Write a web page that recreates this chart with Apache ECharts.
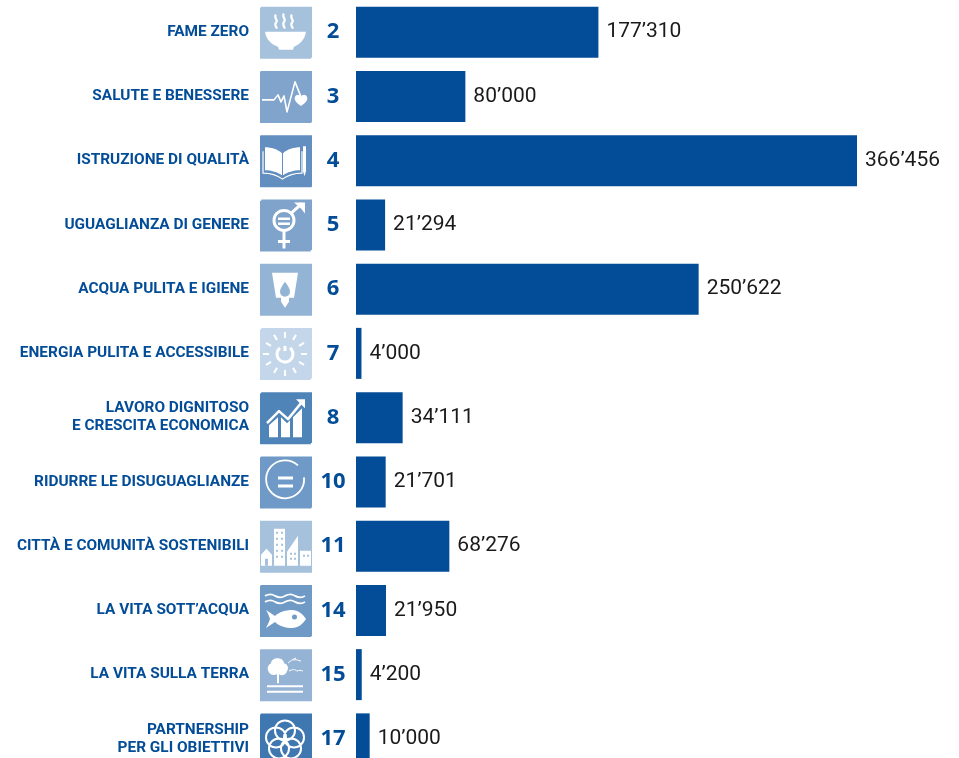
<!DOCTYPE html>
<html><head><meta charset="utf-8">
<style>html,body{margin:0;padding:0;background:#fff}#c{width:959px;height:758px}</style>
<script src="https://cdn.jsdelivr.net/npm/echarts@6/dist/echarts.min.js"></script>
</head><body><div id="c"></div>
<script>
const goalNames = ['FAME ZERO','SALUTE E BENESSERE','ISTRUZIONE DI QUALITÀ','UGUAGLIANZA DI GENERE','ACQUA PULITA E IGIENE','ENERGIA PULITA E ACCESSIBILE','LAVORO DIGNITOSO\nE CRESCITA ECONOMICA','RIDURRE LE DISUGUAGLIANZE','CITTÀ E COMUNITÀ SOSTENIBILI','LA VITA SOTT’ACQUA','LA VITA SULLA TERRA','PARTNERSHIP\nPER GLI OBIETTIVI'];
const goalNumbers = ['2','3','4','5','6','7','8','10','11','14','15','17'];
const amounts = [177310,80000,366456,21294,250622,4000,34111,21701,68276,21950,4200,10000];
const iconTints = ['#A6C1DC','#80A4CB','#628FBF','#7FA3CB','#94B4D6','#C4D6E9','#4F84B8','#6F9AC7','#A6C1DC','#6F9AC6','#94B3D5','#3F77B0'];
const BLUE = '#034C97';

// Icon glyphs in a 52x52 local box: [kind, pathData] where kind is f=white fill, s<width>=white stroke, t=tint fill
const rays = 'M25 4V10M25 42V48M3 26H9M41 26H47M14 7L17 12M33 40L36 45M6 15L11 18M39 34L44 37M6 37L11 34M39 18L44 15M36 7L33 12M17 40L14 45';
const icons = [
 [['f','M5 25H46C45 33 39 38 34 40L33 43H19L18 40C12 38 6 33 5 25Z'],['s2.200','M16 8C13 11 19 14 16 16C14 18 16 20 17 22M24 7C21 10 27 13 24 15C22 18 24 20 25 22M32 8C29 11 35 14 32 16C30 18 32 20 33 22']],
 [['s1.600','M2 29H14L18 24L21 31L24 25L27 41L35 11L41 26'],['f','M41 35C35 31 34 28 35 26C36 23 40 23 41 26C42 23 46 23 47 26C48 28 47 31 41 35Z']],
 [['f','M5 12C11 12 18 14 22 18V40C18 37 11 35 5 35ZM40 12C34 12 27 14 23 18V40C27 37 34 35 40 35Z'],['s1.200','M3 16V38C10 38 17 40 22.500 44C28 40 35 38 42 38V16'],['f','M43 11H46V36L44.500 41L43 36Z']],
 [['s3','M24 11A10 10 0 1 0 24.010 11M24 31V49M18 42H30M31 14L42 4'],['f','M34 3H45V14L41 9Z'],['f','M18 18H30V20.500H18ZM18 23H30V25.500H18Z']],
 [['f','M12 9H38L34 34H29V38L25 44L21 38V34H16Z'],['t','M25 18C28 22 30 25 30 28A5 5 0 0 1 20 28C20 25 22 22 25 18Z']],
 [['s2',rays],['s3','M20 20A8 8 0 1 0 30 20M25 18V23']],
 [['f','M9 45V33L18 25V45ZM21 45V25L27 31L30 28V45ZM33 45V25L42 16V45Z'],['s2.500','M7 31L19 19L28 27L41 11'],['f','M36 7H45V16Z']],
 [['s1.800','M38 9A19 19 0 1 0 44 21'],['f','M18 20H33V23H18ZM18 28H33V31H18Z']],
 [['f','M1 34L6.500 28L12 34V45H1ZM14 8H25V45H14ZM27 31L38 15V45H27ZM40 30H51V45H40Z'],['t','M16 11H18V13H16ZM21 11H23V13H21ZM16 17H18V19H16ZM21 17H23V19H21ZM16 23H18V25H16ZM21 23H23V25H21ZM16 29H18V31H16ZM21 29H23V31H21ZM16 35H18V37H16ZM21 35H23V37H21ZM30 32H32V34H30ZM34 32H36V34H34ZM30 37H32V39H30ZM34 37H36V39H34ZM43 34H45V36H43ZM47 34H49V36H47ZM5 38H8V45H5Z']],
 [['s1.800','M5 11C9 9 12 9 15 11C19 13 22 13 25 11C29 9 32 9 35 11C39 13 42 13 45 11M5 17C9 15 12 15 15 17C19 19 22 19 25 17C29 15 32 15 35 17C39 19 42 19 45 17'],['f','M6 25C9 27 12 29 15 31C19 27 26 25 32 25C38 25 43 29 46 34C43 39 38 43 32 43C26 43 19 41 15 37C12 39 9 41 6 43C8 39 9 37 10 34C9 31 8 28 6 25Z'],['t','M32 32A2.500 2.500 0 1 0 37 32A2.500 2.500 0 1 0 32 32Z']],
 [['f','M18 9C22 9 24 12 24 14C28 15 29 19 27 22C26 26 21 27 19 25V34H17V25C13 27 9 25 8 21C7 18 9 15 11 14C11 11 14 9 18 9Z'],['f','M7 36H43V38H7ZM7 41.500H43V43.500H7Z'],['s1','M28 14C30 12 33 10 36 9M33 11C35 10 38 11 41 12M29 22C32 20 35 20 37 22C39 21 41 21 43 22']],
 [['s2','M15 17A10 10 0 1 0 35 17A10 10 0 1 0 15 17M6 24A10 10 0 1 0 26 24A10 10 0 1 0 6 24M24 24A10 10 0 1 0 44 24A10 10 0 1 0 24 24M9 35A10 10 0 1 0 29 35A10 10 0 1 0 9 35M21 35A10 10 0 1 0 41 35A10 10 0 1 0 21 35']]
];

function iconItem(params, api) {
  const i = params.dataIndex, p = api.coord([0, i]), tint = iconTints[i];
  const children = [{type:'rect', shape:{x:0,y:0,width:52,height:52}, style:{fill:tint}}];
  icons[i].forEach(([kind, d]) => {
    const style = kind === 'f' ? {fill:'#fff'} : kind === 't' ? {fill:tint}
      : {fill:'none', stroke:'#fff', lineWidth:+kind.slice(1), lineJoin:'round'};
    children.push({type:'path', shape:{pathData:'M0 0L0.010 0L0.010 0.010ZM52 52L51.990 52L51.990 51.990Z' + d, x:0,y:0,width:52,height:52, layout:'cover'}, style});
  });
  return {type:'group', x:p[0]-96, y:p[1]-25.5, children};
}

const fmt = v => String(v).replace(/\B(?=(\d{3})+$)/g, '’');

const chart = echarts.init(document.getElementById('c'), null, {renderer:'canvas'});
chart.setOption({
  animation:false,
  backgroundColor:'#fff',
  grid:{left:356, top:0, width:501, height:771, containLabel:false, outerBoundsMode:'none'},
  xAxis:{type:'value', min:0, max:366456, show:false},
  yAxis:[
   {type:'category', inverse:true, data:goalNumbers, position:'left',
    axisLine:{show:false}, axisTick:{show:false},
    axisLabel:{interval:0, margin:23, align:'center', padding:[3,0,0,0], color:BLUE, fontFamily:'Noto Sans', fontWeight:'bold', fontSize:22}},
   {type:'category', inverse:true, data:goalNames, position:'left', offset:107,
    axisLine:{show:false}, axisTick:{show:false},
    axisLabel:{interval:0, margin:0, align:'right', padding:[3,0,0,0], color:BLUE, fontFamily:'Roboto', fontWeight:'bold', fontSize:15.4, lineHeight:18}}
  ],
  series:[
   {type:'bar', yAxisIndex:0, data:amounts, barWidth:51, itemStyle:{color:BLUE},
    label:{show:true, position:'right', distance:8, padding:[3,0,0,0], color:'#1a1a1a', fontFamily:'Roboto', fontSize:21, formatter:p=>fmt(p.value)}},
   {type:'custom', yAxisIndex:0, silent:true, clip:false, encode:{x:0,y:1}, data:goalNumbers.map((n,i)=>[0,i]), renderItem:iconItem}
  ]
});
</script></body></html>
